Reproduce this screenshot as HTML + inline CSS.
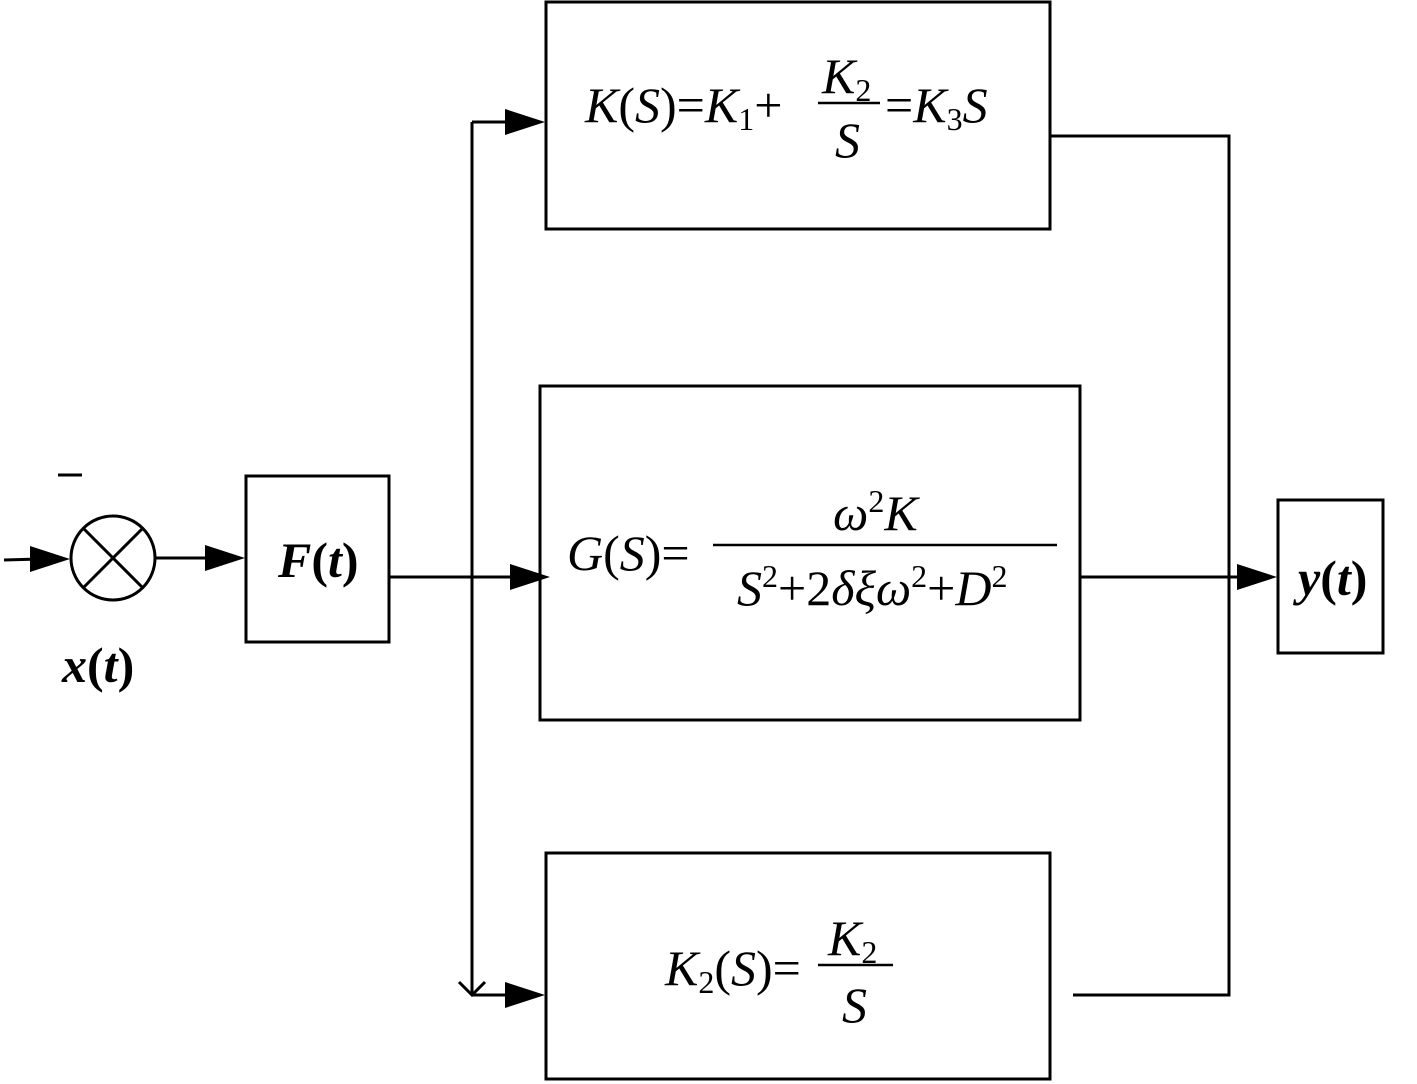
<!DOCTYPE html>
<html><head><meta charset="utf-8"><style>html,body{margin:0;padding:0;background:#fff}svg{display:block}</style></head>
<body>
<svg width="1417" height="1084" viewBox="0 0 1417 1084" xmlns="http://www.w3.org/2000/svg" font-family="Liberation Serif, serif">
<g stroke="#000" stroke-width="3" fill="none">
<line x1="4" y1="560" x2="40" y2="559"/>
<circle cx="113" cy="558" r="42"/>
<line x1="83" y1="528" x2="143" y2="588"/>
<line x1="143" y1="528" x2="83" y2="588"/>
<line x1="58" y1="475" x2="82" y2="475"/>
<line x1="155" y1="558" x2="210" y2="558"/>
<rect x="246" y="476" width="143" height="166"/>
<line x1="389" y1="577" x2="515" y2="577"/>
<line x1="472" y1="122" x2="472" y2="995"/>
<line x1="472" y1="122" x2="510" y2="122"/>
<line x1="472" y1="995" x2="510" y2="995"/>
<polyline points="459,982 472,995 485,982"/>
<rect x="546" y="2" width="504" height="227"/>
<rect x="540" y="386" width="540" height="334"/>
<rect x="546" y="853" width="504" height="226"/>
<polyline points="1050,136 1229,136 1229,995 1073,995"/>
<line x1="1080" y1="577" x2="1240" y2="577"/>
<rect x="1278" y="500" width="105" height="153"/>
<line x1="818" y1="103" x2="880" y2="103" stroke-width="2.5"/>
<line x1="713" y1="545" x2="1057" y2="545" stroke-width="2.5"/>
<line x1="818" y1="965" x2="893" y2="965" stroke-width="2.5"/>
</g>
<g fill="#000">
<polygon points="30,546 70,559 30,572"/>
<polygon points="205,545 245,558 205,571"/>
<polygon points="510,564 550,577 510,590"/>
<polygon points="505,109 545,122 505,135"/>
<polygon points="505,982 545,995 505,1008"/>
<polygon points="1237,564 1277,577 1237,590"/>
</g>
<g font-size="50" fill="#000">
<text x="278" y="577" font-weight="bold" font-style="italic">F<tspan font-style="normal">(</tspan>t<tspan font-style="normal">)</tspan></text>
<text x="62" y="682" font-weight="bold" font-style="italic">x<tspan font-style="normal">(</tspan>t<tspan font-style="normal">)</tspan></text>
<text x="1298" y="595" font-weight="bold" font-style="italic">y<tspan font-style="normal">(</tspan>t<tspan font-style="normal">)</tspan></text>

<text x="585" y="122"><tspan font-style="italic">K</tspan>(<tspan font-style="italic">S</tspan>)=<tspan font-style="italic">K</tspan><tspan font-size="32" dy="8">1</tspan><tspan dy="-8">+</tspan></text>
<text x="822" y="93"><tspan font-style="italic">K</tspan><tspan font-size="32" dy="8">2</tspan></text>
<text x="835" y="157" font-style="italic">S</text>
<text x="885" y="122">=<tspan font-style="italic">K</tspan><tspan font-size="32" dy="8">3</tspan><tspan font-style="italic" dy="-8">S</tspan></text>

<text x="567" y="570"><tspan font-style="italic">G</tspan>(<tspan font-style="italic">S</tspan>)=</text>
<text x="833" y="530" font-style="italic">ω<tspan font-style="normal" font-size="32" dy="-18">2</tspan><tspan dy="18">K</tspan></text>
<text x="737" y="605"><tspan font-style="italic">S</tspan><tspan font-size="32" dy="-18">2</tspan><tspan dy="18">+2</tspan><tspan font-style="italic">δξω</tspan><tspan font-size="32" dy="-18">2</tspan><tspan dy="18">+</tspan><tspan font-style="italic">D</tspan><tspan font-size="32" dy="-18">2</tspan></text>

<text x="665" y="985"><tspan font-style="italic">K</tspan><tspan font-size="32" dy="8">2</tspan><tspan dy="-8">(</tspan><tspan font-style="italic">S</tspan>)=</text>
<text x="828" y="955"><tspan font-style="italic">K</tspan><tspan font-size="32" dy="8">2</tspan></text>
<text x="842" y="1022" font-style="italic">S</text>
</g>
</svg>
</body></html>
